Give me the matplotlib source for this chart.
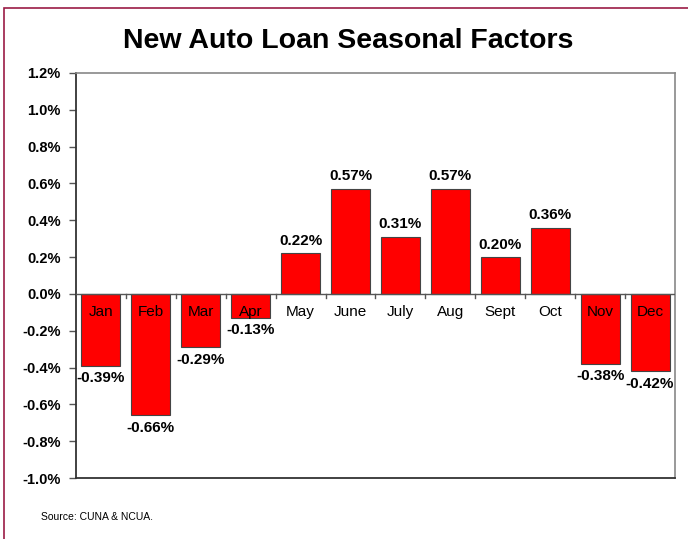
import matplotlib
matplotlib.use("Agg")
import matplotlib.pyplot as plt
from matplotlib.patches import Rectangle
from matplotlib.ticker import FuncFormatter, MultipleLocator
import numpy as np

plt.rcParams['font.family'] = ['Liberation Sans', 'DejaVu Sans']

months = ["Jan", "Feb", "Mar", "Apr", "May", "June", "July", "Aug", "Sept", "Oct", "Nov", "Dec"]
values = [-0.39, -0.66, -0.29, -0.13, 0.22, 0.57, 0.31, 0.57, 0.20, 0.36, -0.38, -0.42]
title = "New Auto Loan Seasonal Factors"
source = "Source: CUNA & NCUA."

W, H = 688, 539
fig = plt.figure(figsize=(W / 100, H / 100), dpi=100)

# frame
fig.patches.append(Rectangle((4 / W, -0.1), 1.0, 1 - 8 / H + 0.1, transform=fig.transFigure,
                             fill=False, edgecolor='#9b1b45', linewidth=1.2))

ax = fig.add_axes([76 / W, 1 - 478 / H, (675 - 76) / W, (478 - 73) / H])
x = np.arange(len(months))
ax.bar(x, values, width=0.78, color='#ff0000', edgecolor='#444444', linewidth=0.8, zorder=3)
ax.set_xlim(-0.5, len(months) - 0.5)
ax.set_ylim(-1.0, 1.2)
ax.yaxis.set_major_locator(MultipleLocator(0.2))
ax.yaxis.set_major_formatter(FuncFormatter(lambda v, p: f"{v:.1f}%"))
for lbl in ax.get_yticklabels():
    lbl.set_fontweight('bold')
ax.tick_params(axis='y', labelsize=10.5, length=5, width=1, color='#555555', pad=6)
ax.set_xticks([])
ax.axhline(0, color='#555555', linewidth=1, zorder=4)
for b in np.arange(0.5, len(months) - 0.5, 1.0):
    ax.plot([b, b], [0, -0.02], color='#555555', linewidth=1, zorder=4)

for s in ['left', 'bottom']:
    ax.spines[s].set_color('#333333')
    ax.spines[s].set_linewidth(1.3)
for s in ['top', 'right']:
    ax.spines[s].set_color('#888888')
    ax.spines[s].set_linewidth(1.2)

for xi, m, v in zip(x, months, values):
    ax.text(xi, -0.1, m, ha='center', va='center', fontsize=11, zorder=5)
    if v >= 0:
        ax.text(xi, v + 0.03, f"{v:.2f}%", ha='center', va='bottom', fontsize=11, fontweight='bold')
    else:
        ax.text(xi, v - 0.03, f"{v:.2f}%", ha='center', va='top', fontsize=11, fontweight='bold')

fig.text(348 / W, 1 - 41 / H, title, ha='center', va='center', fontsize=20.5, fontweight='bold')
fig.text(41 / W, 1 - 517 / H, source, ha='left', va='center', fontsize=7.5)

fig.savefig("out.png", dpi=100)
